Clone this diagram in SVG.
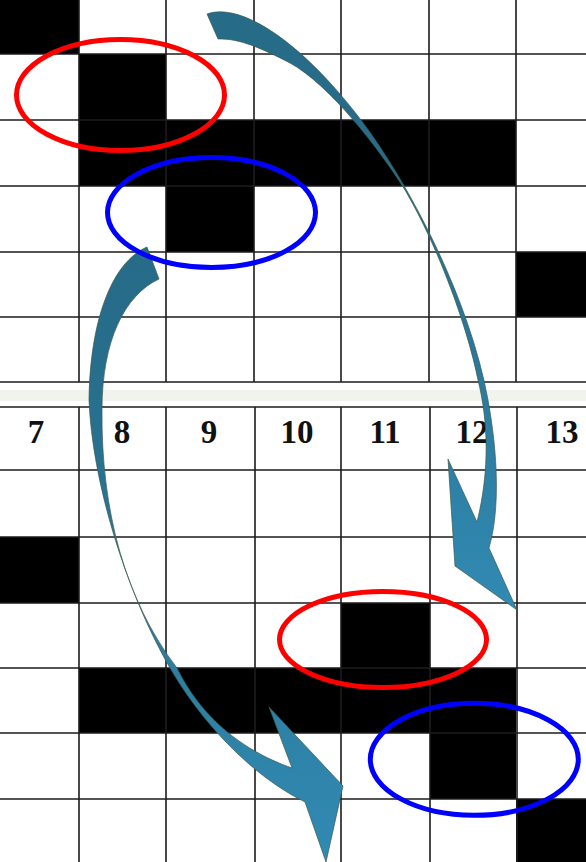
<svg xmlns="http://www.w3.org/2000/svg" width="586" height="862" viewBox="0 0 586 862">
<style>
.ln{stroke:#1c1c1c;stroke-width:1.6;fill:none}
.blk{fill:#000}
.num{font-family:"Liberation Serif","Times New Roman",serif;font-weight:bold;font-size:33px;fill:#111;text-anchor:middle}
.ring{fill:none;stroke-width:5}
.arr{stroke:#3b5b4c;stroke-width:0.7;stroke-linejoin:miter}
</style>
<defs>
<linearGradient id="g1" gradientUnits="userSpaceOnUse" x1="0" y1="10" x2="0" y2="610">
<stop offset="0" stop-color="#266b88"/><stop offset="0.35" stop-color="#276e8c"/><stop offset="1" stop-color="#318ab3"/>
</linearGradient>
<linearGradient id="g2" gradientUnits="userSpaceOnUse" x1="0" y1="247" x2="0" y2="862">
<stop offset="0" stop-color="#266b88"/><stop offset="0.35" stop-color="#287190"/><stop offset="1" stop-color="#318ab3"/>
</linearGradient>
</defs>
<rect width="586" height="862" fill="#fff"/>
<g id="grid">
<rect x="0" y="390" width="586" height="11" fill="#f1f4ec"/>
<rect class="blk" x="0" y="0" width="79" height="54"/>
<rect class="blk" x="79" y="54" width="87" height="66"/>
<rect class="blk" x="79" y="120" width="437" height="66"/>
<rect class="blk" x="166" y="186" width="88" height="66"/>
<rect class="blk" x="516" y="252" width="70" height="65"/>
<rect class="blk" x="0" y="537" width="79" height="66"/>
<rect class="blk" x="341" y="603" width="89" height="65"/>
<rect class="blk" x="79" y="668" width="437" height="65"/>
<rect class="blk" x="430" y="733" width="86" height="66"/>
<rect class="blk" x="516" y="799" width="70" height="63"/>
<path class="ln" d="M0,54H586M0,120H586M0,186H586M0,252H586M0,317H586M0,382H586M79,0V382M166,0V382M254,0V382M341,0V382M429,0V382M516,0V382"/>
<path class="ln" d="M0,407H586M0,470H586M0,537H586M0,603H586M0,668H586M0,733H586M0,799H586M79,407V862M166,407V862M255,407V862M341,407V862M430,407V862M517,407V862"/>
</g>
<g id="labels">
<text class="num" x="36" y="443">7</text>
<text class="num" x="122" y="443">8</text>
<text class="num" x="209" y="443">9</text>
<text class="num" x="297" y="443">10</text>
<text class="num" x="385" y="443">11</text>
<text class="num" x="472" y="443">12</text>
<text class="num" x="562" y="443">13</text>
</g>
<g id="connectors">
<path id="arrow1" class="arr" fill="url(#g1)" d="M207,14 C240,2 300,40 361,120 C410,185 470,300 488,400 C498,455 500,510 489,548 L517,610 L455,566 L448,459 L477,522 C490,470 488,420 478,380 C468,330 440,250 405,190 C380,150 330,85 290,63 C265,50 240,38 218,39 Z"/>
<path id="arrow2" class="arr" fill="url(#g2)" d="M147,247 C112,262 90,320 89,400 C92,480 125,590 170,668 C200,720 250,775 305,802 L326,862 L343,786 L269,707 L292,768 C240,750 200,715 177,668 C125,600 101,510 102,410 C102,340 125,295 159,279 Z"/>
</g>
<g id="ring-red-top"><ellipse class="ring" stroke="#ff0000" cx="120.5" cy="95" rx="104" ry="55.5"/></g>
<g id="ring-blue-top"><ellipse class="ring" stroke="#0000ff" cx="211.5" cy="212.5" rx="104" ry="55"/></g>
<g id="ring-red-bottom"><ellipse class="ring" stroke="#ff0000" cx="383" cy="639.5" rx="103.5" ry="48"/></g>
<g id="ring-blue-bottom"><ellipse class="ring" stroke="#0000ff" cx="474.3" cy="759.3" rx="104" ry="56"/></g>
</svg>
